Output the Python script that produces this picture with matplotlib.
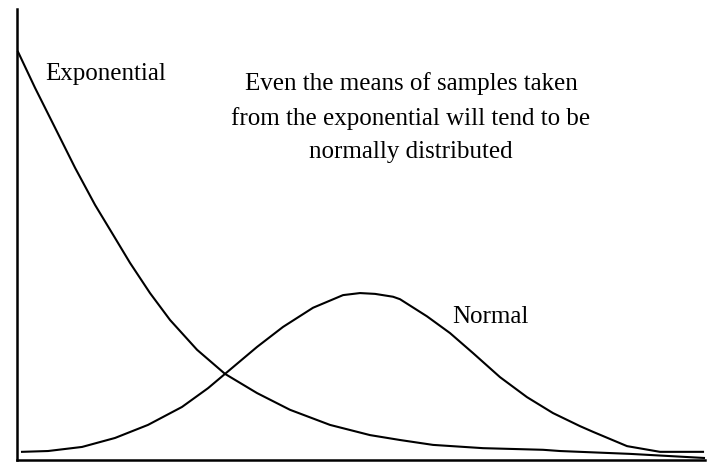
import matplotlib
matplotlib.use("Agg")
from matplotlib import pyplot as plt

plt.rcParams['font.family'] = ['Liberation Serif', 'DejaVu Serif']

# curves (x from 0 to 10, height relative to exponential start)
exp_x = [0.0, 0.247, 0.539, 0.830, 1.121, 1.412, 1.630, 1.921, 2.213, 2.606, 3.013, 3.479,
         3.959, 4.541, 5.124, 5.560, 6.041, 6.769, 7.642, 7.889, 8.908, 9.985]
exp_y = [1.0, 0.912, 0.814, 0.716, 0.625, 0.544, 0.483, 0.409, 0.343, 0.270, 0.211, 0.164,
         0.123, 0.086, 0.061, 0.049, 0.037, 0.029, 0.025, 0.022, 0.015, 0.005]

norm_x = [0.058, 0.437, 0.932, 1.412, 1.892, 2.387, 2.766, 3.013, 3.479, 3.857, 4.294, 4.731,
          4.978, 5.197, 5.459, 5.560, 5.953, 6.288, 6.623, 7.016, 7.409, 7.787, 8.180, 8.370,
          8.865, 9.345, 9.971]
norm_y = [0.020, 0.022, 0.032, 0.054, 0.086, 0.130, 0.176, 0.211, 0.277, 0.326, 0.373, 0.404,
          0.409, 0.407, 0.400, 0.394, 0.352, 0.311, 0.262, 0.203, 0.154, 0.115, 0.083, 0.069,
          0.034, 0.020, 0.020]

label_exp = "Exponential"
label_norm = "Normal"
note = "Even the means of samples taken\nfrom the exponential will tend to be\nnormally distributed"

fig = plt.figure(figsize=(7.12, 4.63), dpi=100)
ax = fig.add_axes([17 / 712, 3 / 463, 688 / 712, 451 / 463])

ax.plot(exp_x, exp_y, color="black", lw=1.5, solid_joinstyle="round", clip_on=False)
ax.plot(norm_x, norm_y, color="black", lw=1.5, solid_joinstyle="round", clip_on=False)

ax.set_xlim(-0.015, 10.0)
ax.set_ylim(0, 1.105)

for s in ["top", "right"]:
    ax.spines[s].set_visible(False)
ax.spines["left"].set_linewidth(1.8)
ax.spines["bottom"].set_linewidth(1.8)
ax.set_xticks([])
ax.set_yticks([])

ax.text(0.39, 0.931, label_exp, fontsize=18, va="baseline", ha="left")
ax.text(6.32, 0.336, label_norm, fontsize=18, va="baseline", ha="left")
# baseline of multi-line text sits on the last line
ax.text(5.72, 0.740, note, fontsize=18, va="baseline", ha="center", linespacing=1.66)

fig.savefig("out.png", dpi=100)
